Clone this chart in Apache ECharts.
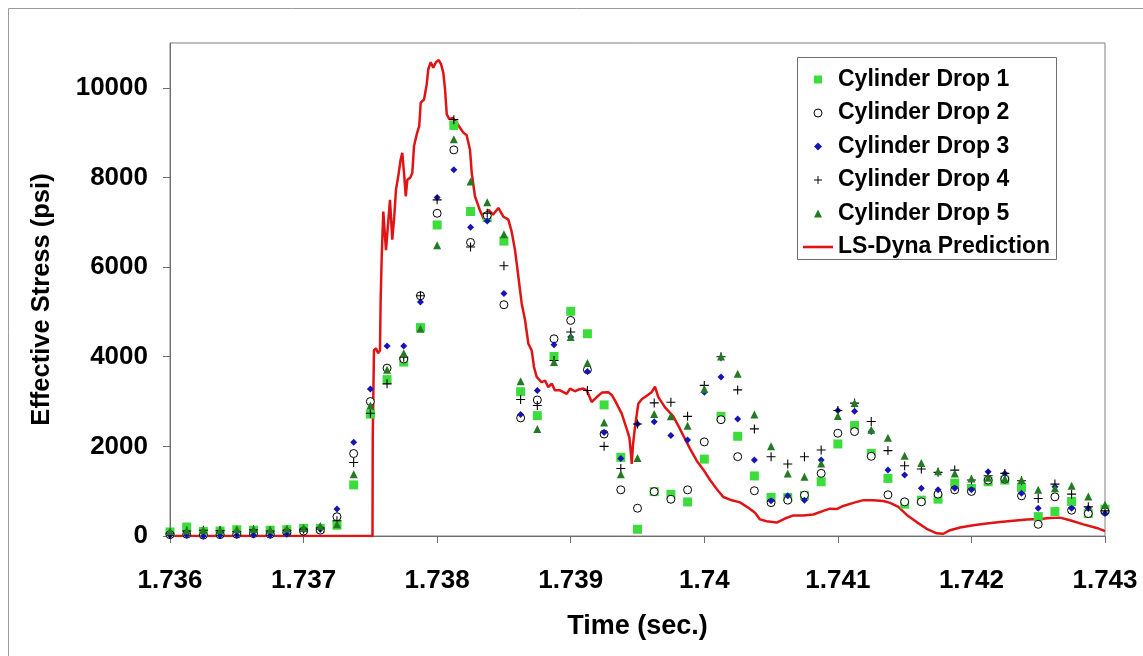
<!DOCTYPE html>
<html>
<head>
<meta charset="utf-8">
<script src="https://cdn.jsdelivr.net/npm/echarts@6/dist/echarts.min.js"></script>
<style>
  html, body { margin: 0; padding: 0; background: #fff; }
  #chart { width: 1143px; height: 656px; }
</style>
</head>
<body>
<div id="chart"></div>
<script>
// Sample times (s) of the cylinder drop measurements
const times = [1.736, 1.736125, 1.73625, 1.736375, 1.7365, 1.736625, 1.73675, 1.736875,
  1.737, 1.737125, 1.73725, 1.737375, 1.7375, 1.737625, 1.73775, 1.737875,
  1.738, 1.738125, 1.73825, 1.738375, 1.7385, 1.738625, 1.73875, 1.738875,
  1.739, 1.739125, 1.73925, 1.739375, 1.7395, 1.739625, 1.73975, 1.739875,
  1.74, 1.740125, 1.74025, 1.740375, 1.7405, 1.740625, 1.74075, 1.740875,
  1.741, 1.741125, 1.74125, 1.741375, 1.7415, 1.741625, 1.74175, 1.741875,
  1.742, 1.742125, 1.74225, 1.742375, 1.7425, 1.742625, 1.74275, 1.742875, 1.743];

// Effective stress (psi) for each drop
const drop1 = [90, 200, 100, 110, 140, 130, 130, 140, 170, 170,
  240, 1140, 2720, 3490, 3880, 4650, 6940, 9160, 7240, 7100,
  6580, 3220, 2685, 4005, 5013, 4513, 2925, 1755, 150, 990,
  930, 760, 1715, 2670, 2225, 1340, 860, 860, 900, 1210,
  2054, 2465, 1845, 1285, 710, 800, 822, 1180, 1060, 1210,
  1247, 1083, 433, 545, 770, 500, 598];
const drop2 = [30, 40, 20, 30, 40, 55, 40, 75, 110, 130,
  430, 1840, 3000, 3745, 3950, 5360, 7200, 8615, 6550, 7150,
  5160, 2635, 3035, 4400, 4810, 3710, 2275, 1030, 620, 990,
  820, 1030, 2100, 2595, 1770, 1010, 745, 800, 911, 1397,
  2293, 2330, 1778, 919, 762, 762, 934, 1030, 994, 1247,
  1270, 896, 261, 874, 575, 500, 545];
const drop3 = [15, 15, 0, 10, 15, 20, 15, 40, 140, 150,
  600, 2090, 3280, 4240, 4240, 5220, 7550, 8170, 6890, 7030,
  5410, 2710, 3245, 4265, 4440, 3670, 2310, 1730, 2500, 2550,
  2240, 2140, 3210, 3545, 2610, 1695, 785, 896, 800, 1696,
  2800, 2786, 2330, 1470, 1360, 1068, 1030, 1068, 1030, 1434,
  1397, 956, 620, 1100, 620, 620, 500];
const drop4 = [60, 110, 130, 120, 100, 140, 110, 130, 150, 180,
  340, 1640, 2740, 3395, 3990, 5360, 7500, 9290, 6450, 7200,
  6030, 3045, 2910, 3915, 4550, 3245, 2000, 1505, 2500, 2970,
  2985, 2670, 3360, 4000, 3260, 2390, 1770, 1605, 1770, 1920,
  2800, 2965, 2555, 1905, 1569, 1494, 1420, 1470, 1250, 1345,
  1397, 1232, 836, 1158, 934, 650, 560];
const drop5 = [110, 120, 130, 130, 150, 150, 140, 160, 180, 225,
  260, 1380, 2910, 3710, 4080, 4625, 6490, 8855, 7910, 7445,
  6735, 3455, 2390, 3880, 4440, 3860, 2535, 1380, 1740, 2720,
  2670, 2460, 3280, 4005, 3620, 2710, 2000, 1397, 1322, 1620,
  2675, 2965, 2368, 2190, 1793, 1628, 1442, 1397, 1285, 1300,
  1285, 1247, 1030, 1068, 1120, 881, 695];

// LS-Dyna simulated effective stress
const lsTime = [1.736, 1.737516, 1.737518, 1.737527, 1.737542, 1.737557, 1.737572, 1.737577,
  1.737585, 1.737597, 1.737617, 1.737647, 1.737664, 1.737679, 1.737692, 1.737709,
  1.737727, 1.737739, 1.737754, 1.737765, 1.737777, 1.737797, 1.737814, 1.737827,
  1.737847, 1.737866, 1.737877, 1.737902, 1.737922, 1.737934, 1.737952, 1.737971,
  1.737991, 1.738012, 1.738029, 1.738046, 1.738059, 1.738072, 1.738091, 1.738117,
  1.738146, 1.738171, 1.738196, 1.738221, 1.738246, 1.738259, 1.738283, 1.738321,
  1.738358, 1.738383, 1.738418, 1.738458, 1.738495, 1.738533, 1.738558, 1.738583,
  1.738608, 1.738633, 1.738658, 1.738683, 1.738708, 1.738725, 1.738745, 1.738783,
  1.738808, 1.738832, 1.738858, 1.738882, 1.73892, 1.738945, 1.73897, 1.738995,
  1.739032, 1.739062, 1.739094, 1.73912, 1.739157, 1.739195, 1.739234, 1.739281,
  1.739309, 1.739332, 1.739382, 1.739419, 1.739439, 1.739449, 1.739457, 1.739466,
  1.739481, 1.739506, 1.739532, 1.739556, 1.739606, 1.739631, 1.739656, 1.739706,
  1.739768, 1.739818, 1.739843, 1.739893, 1.739943, 1.739993, 1.740043, 1.740093,
  1.740142, 1.740193, 1.740267, 1.74033, 1.74038, 1.740417, 1.740467, 1.740542,
  1.740604, 1.740667, 1.740741, 1.740816, 1.740891, 1.740941, 1.740991, 1.741041,
  1.741116, 1.741191, 1.741265, 1.74134, 1.741391, 1.741453, 1.741516, 1.74159,
  1.741665, 1.74174, 1.74179, 1.74184, 1.741915, 1.742014, 1.742114, 1.742214,
  1.742314, 1.742414, 1.742514, 1.742588, 1.742663, 1.742738, 1.742838, 1.742938, 1.743];
const lsStress = [0, 0, 2220, 4140, 4190, 4080, 4140, 5260,
  6230, 7240, 6380, 7500, 6610, 7130, 7730, 8030,
  8400, 8550, 8030, 7580, 7950, 7990, 8100, 8700,
  8960, 9150, 9670, 9740, 10080, 10420, 10570, 10450,
  10570, 10620, 10530, 10340, 9970, 9410, 9300, 9330,
  9220, 9110, 9000, 8940, 8620, 8100, 7580, 7260,
  7020, 7280, 7170, 7320, 7130, 7060, 6790, 6380,
  5790, 5190, 4820, 4290, 4140, 3770, 3550, 3430,
  3470, 3320, 3400, 3250, 3250, 3210, 3170, 3290,
  3230, 3270, 3290, 3250, 2990, 3100, 3200, 3210,
  3140, 3020, 2730, 2390, 2200, 1900, 1610, 2020,
  2430, 2950, 3050, 3100, 3210, 3330, 3100, 2870,
  2670, 2390, 2240, 1950, 1680, 1480, 1250, 1050,
  870, 810, 750, 630, 520, 370, 330, 300,
  390, 460, 460, 480, 560, 610, 600, 670,
  740, 800, 800, 780, 740, 650, 470, 310,
  160, 60, 50, 130, 190, 240, 280, 310,
  340, 370, 380, 400, 410, 350, 260, 180, 110];

// Axis ticks
const xTicks = [1.736, 1.737, 1.738, 1.739, 1.740, 1.741, 1.742, 1.743];
const xTickLabels = ['1.736', '1.737', '1.738', '1.739', '1.74', '1.741', '1.742', '1.743'];
const yTicks = [0, 2000, 4000, 6000, 8000, 10000];
const yTickLabels = ['0', '2000', '4000', '6000', '8000', '10000'];

const FONT = '"Liberation Sans", Arial, sans-serif';
const pair = (xs, ys) => xs.map((x, i) => [x, ys[i]]);
const tickText = (ticks, labels) => (v) => {
  const k = ticks.findIndex(t => Math.abs(t - v) < 1e-7);
  return k >= 0 ? labels[k] : '';
};

const PLUS = 'path://M4.4,0H5.6V4.4H10V5.6H5.6V10H4.4V5.6H0V4.4H4.4Z';
const SQUARE = 'path://M0,0H10V10H0Z';
const TRIANGLE = 'path://M5,0L10,10H0Z';
const DIAMOND = 'path://M5,0L10,5L5,10L0,5Z';
const DASH = 'path://M0,0H30V2.6H0Z';

const names = ['Cylinder Drop 1', 'Cylinder Drop 2', 'Cylinder Drop 3', 'Cylinder Drop 4', 'Cylinder Drop 5', 'LS-Dyna Prediction'];
const RED = '#e01414';

const chart = echarts.init(document.getElementById('chart'), null, { renderer: 'canvas' });

const option = {
  backgroundColor: '#fff',
  animation: false,
  grid: {
    left: 170, right: 38, top: 43, bottom: 120,
    show: true, borderColor: '#808080', borderWidth: 1, backgroundColor: 'transparent'
  },
  xAxis: {
    type: 'value',
    min: 1.736, max: 1.743,
    name: 'Time (sec.)',
    nameLocation: 'middle',
    nameGap: 77,
    nameTextStyle: { fontFamily: FONT, fontWeight: 'bold', fontSize: 27, color: '#000' },
    axisLine: { lineStyle: { color: '#6e6e6e', width: 1 } },
    axisTick: { show: true, inside: false, length: 7, lineStyle: { color: '#6e6e6e' }, customValues: xTicks },
    axisLabel: {
      customValues: xTicks,
      margin: 32,
      fontFamily: FONT, fontWeight: 'bold', fontSize: 26, color: '#000',
      formatter: tickText(xTicks, xTickLabels)
    },
    splitLine: { show: false }
  },
  yAxis: {
    type: 'value',
    min: 0, max: 11000,
    name: 'Effective Stress (psi)',
    nameLocation: 'middle',
    nameGap: 115,
    nameTextStyle: { fontFamily: FONT, fontWeight: 'bold', fontSize: 25.5, color: '#000', padding: [0, 20, 0, 0] },
    axisLine: { show: true, lineStyle: { color: '#6e6e6e', width: 1 } },
    axisTick: { show: true, inside: false, length: 7, lineStyle: { color: '#6e6e6e' }, customValues: yTicks },
    axisLabel: {
      customValues: yTicks,
      margin: 22,
      fontFamily: FONT, fontWeight: 'bold', fontSize: 26, color: '#000',
      formatter: tickText(yTicks, yTickLabels)
    },
    splitLine: { show: false }
  },
  legend: {
    orient: 'vertical',
    left: 803, top: 68,
    padding: 0,
    itemWidth: 30, itemHeight: 8, itemGap: 10.5,
    symbolKeepAspect: true,
    selectedMode: false,
    textStyle: { fontFamily: FONT, fontWeight: 'bold', fontSize: 23, color: '#000' },
    data: [
      { name: names[0], icon: SQUARE, itemStyle: { color: '#3ddc3d' } },
      { name: names[1], icon: 'circle', itemStyle: { color: '#fff', borderColor: '#000', borderWidth: 1 } },
      { name: names[2], icon: DIAMOND, itemStyle: { color: '#1515b5' } },
      { name: names[3], icon: PLUS, itemStyle: { color: '#000' } },
      { name: names[4], icon: TRIANGLE, itemStyle: { color: '#237a23' } },
      { name: names[5], icon: DASH, itemStyle: { color: RED, borderWidth: 0 } }
    ]
  },
  graphic: [
    {
      type: 'rect', silent: true, z: -10,
      shape: { x: 8.5, y: 8.5, width: 1200, height: 700 },
      style: { fill: 'none', stroke: '#9a9a9a', lineWidth: 1 }
    },
    {
      type: 'rect', silent: true, z: 3,
      shape: { x: 797.5, y: 57.5, width: 259, height: 202 },
      style: { fill: '#fff', stroke: '#6e6e6e', lineWidth: 1 }
    }
  ],
  series: [
    {
      name: names[5], type: 'line', z: 1,
      data: pair(lsTime, lsStress),
      symbol: 'none', showSymbol: false,
      lineStyle: { color: RED, width: 2.5 },
      itemStyle: { color: RED }
    },
    {
      name: names[0], type: 'scatter', z: 2,
      data: pair(times, drop1),
      symbol: 'rect', symbolSize: 9,
      itemStyle: { color: '#3ddc3d', opacity: 1 }
    },
    {
      name: names[1], type: 'scatter', z: 2,
      data: pair(times, drop2),
      symbol: 'circle', symbolSize: 8,
      itemStyle: { color: '#fff', borderColor: '#000', borderWidth: 1, opacity: 1 }
    },
    {
      name: names[2], type: 'scatter', z: 2,
      data: pair(times, drop3),
      symbol: 'diamond', symbolSize: 7,
      itemStyle: { color: '#1515b5', opacity: 1 }
    },
    {
      name: names[3], type: 'scatter', z: 2,
      data: pair(times, drop4),
      symbol: PLUS, symbolSize: 9,
      itemStyle: { color: '#000', opacity: 1 }
    },
    {
      name: names[4], type: 'scatter', z: 2,
      data: pair(times, drop5),
      symbol: 'triangle', symbolSize: 8,
      itemStyle: { color: '#237a23', opacity: 1 }
    }
  ]
};

chart.setOption(option);
</script>
</body>
</html>
